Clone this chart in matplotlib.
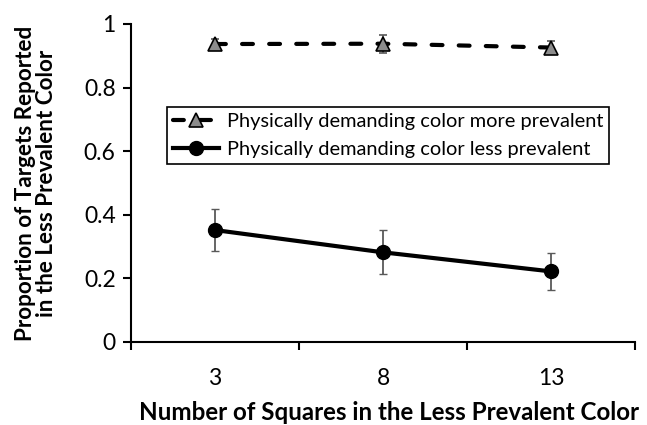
import matplotlib
matplotlib.use('Agg')
import matplotlib.pyplot as plt
from matplotlib.lines import Line2D

plt.rcParams['font.family'] = ['Lato', 'DejaVu Sans']

# data
squares = ['3', '8', '13']
more_prev = [0.937, 0.938, 0.926]
more_err = [0.017, 0.028, 0.02]
less_prev = [0.352, 0.282, 0.222]
less_err = [0.067, 0.069, 0.059]
lab_more = 'Physically demanding color more prevalent'
lab_less = 'Physically demanding color less prevalent'

W, H = 647, 425
fig = plt.figure(figsize=(W / 100, H / 100), dpi=100)
ax = fig.add_axes([131 / W, 1 - 342 / H, (635 - 131) / W, (342 - 24) / H])
renderer = fig.canvas.get_renderer()


def fit_size(text, target_px, weight='normal', start=14.0):
    # pick a font size so the text is about target_px wide
    t = fig.text(0, 0, text, fontsize=start, fontweight=weight)
    w = t.get_window_extent(renderer).width
    t.remove()
    return start * target_px / w


x = range(len(squares))
dash = (0, (2.6, 3.9))
ax.errorbar(x, more_prev, yerr=more_err, color='black', ls=dash, lw=3,
            dash_capstyle='round', marker='^', ms=10, mfc='#8c8c8c', mec='black',
            mew=1.2, ecolor='#595959', elinewidth=1.3, capsize=3, zorder=3)
ax.errorbar(x, less_prev, yerr=less_err, color='black', lw=3,
            marker='o', ms=10, mfc='black', mec='black',
            ecolor='#595959', elinewidth=1.3, capsize=3, zorder=3)

ax.set_xlim(-0.5, len(squares) - 0.5)
ax.set_ylim(0, 1)
ax.set_yticks([0, 0.2, 0.4, 0.6, 0.8, 1])
ax.set_yticklabels(['0', '0.2', '0.4', '0.6', '0.8', '1'])
ax.set_xticks(list(x))
ax.set_xticklabels(squares)
ax.set_xticks([i - 0.5 for i in range(len(squares) + 1)], minor=True)
ax.tick_params(axis='x', which='major', length=0, pad=19, labelsize=16.5)
ax.tick_params(axis='x', which='minor', length=6, width=1.5, direction='out')
ax.tick_params(axis='y', length=6, width=1.5, labelsize=16.5, pad=5)

for s in ['top', 'right']:
    ax.spines[s].set_visible(False)
for s in ['left', 'bottom']:
    ax.spines[s].set_linewidth(1.5)

xl_size = fit_size('Number of Squares in the Less Prevalent Color', 505, 'bold')
fig.text(389 / W, 1 - 412 / H, 'Number of Squares in the Less Prevalent Color',
         fontsize=xl_size, fontweight='bold', ha='center', va='center')
yl_size = fit_size('Proportion of Targets Reported', 318, 'bold')
fig.text(36 / W, 1 - 183 / H, 'Proportion of Targets Reported\nin the Less Prevalent Color',
         fontsize=yl_size, fontweight='bold', ha='center', va='center',
         rotation=90, multialignment='center', linespacing=1.0)

handles = [
    Line2D([], [], color='black', ls=dash, lw=3, dash_capstyle='round', marker='^',
           ms=10, mfc='#8c8c8c', mec='black', mew=1.2),
    Line2D([], [], color='black', lw=3, marker='o', ms=10, mfc='black', mec='black'),
]
leg_size = fit_size(lab_more, 378)
fpx = leg_size * 100 / 72
leg = fig.legend(handles, [lab_more, lab_less], loc='upper left',
                 bbox_to_anchor=(167 / W, 1 - 107 / H), fontsize=leg_size,
                 frameon=True, fancybox=False, edgecolor='black', framealpha=1,
                 handlelength=2.3, borderpad=0.3, labelspacing=35 / fpx - 1.2,
                 handletextpad=0.4, borderaxespad=0)
leg.get_frame().set_linewidth(1.2)

fig.savefig('out.png', dpi=100)
